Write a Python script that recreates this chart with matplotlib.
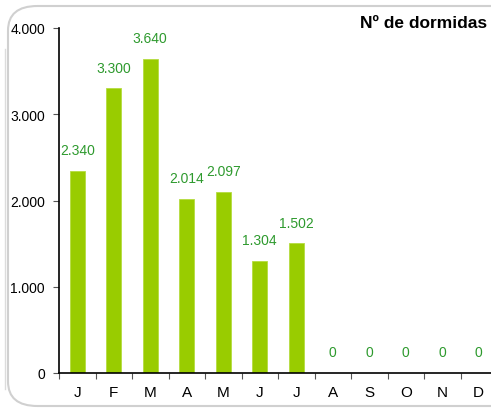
import matplotlib
matplotlib.use("Agg")
import matplotlib.pyplot as plt
from matplotlib.patches import FancyBboxPatch

plt.rcParams['font.family'] = ['Liberation Sans', 'DejaVu Sans']

# dados
meses = ['J', 'F', 'M', 'A', 'M', 'J', 'J', 'A', 'S', 'O', 'N', 'D']
dormidas = [2340, 3300, 3640, 2014, 2097, 1304, 1502, 0, 0, 0, 0, 0]
y_ticks = [0, 1000, 2000, 3000, 4000]
y_labels = ['0', '1.000', '2.000', '3.000', '4.000']

fig = plt.figure(figsize=(4.91, 4.10), dpi=100)

# moldura arredondada
moldura = FancyBboxPatch((8 / 491, 3 / 410), 1.2, 400 / 410,
                         boxstyle="round,pad=0,rounding_size=0.06",
                         transform=fig.transFigure, fill=False,
                         edgecolor='#d0d0d0', linewidth=1.5, clip_on=False)
fig.patches.append(moldura)
fig.add_artist(plt.Line2D([5 / 491, 5 / 491], [20 / 410, 360 / 410],
                          transform=fig.transFigure, color='#dcdcdc', lw=1))

ax = fig.add_axes([59 / 491, 36 / 410, 438 / 491, 345 / 410])
x = list(range(len(meses)))
ax.bar(x, dormidas, width=0.4, color='#99cc00', edgecolor='#b5dc40', linewidth=0.6)

for xi, v in zip(x, dormidas):
    txt = f"{v:,}".replace(',', '.')
    ax.annotate(txt, (xi, v), xytext=(0, 15), textcoords='offset points',
                ha='center', va='center', fontsize=10, color='#2e9a2e')

ax.set_xlim(-0.5, len(meses) - 0.5)
ax.set_ylim(0, 4000)
ax.set_yticks(y_ticks)
ax.set_yticklabels(y_labels, fontsize=10)
ax.set_xticks([i - 0.5 for i in range(len(meses) + 1)])
ax.set_xticklabels([])
ax.set_xticks(x, minor=True)
ax.set_xticklabels(meses, minor=True, fontsize=11)
ax.tick_params(axis='x', which='major', direction='out', length=4, width=0.8, color='#555555')
ax.tick_params(axis='x', which='minor', length=0, pad=9)
ax.tick_params(axis='y', direction='out', length=4, width=0.8, color='#555555', pad=6)

ax.spines['top'].set_visible(False)
ax.spines['right'].set_visible(False)
ax.spines['left'].set_linewidth(1.2)
ax.spines['bottom'].set_linewidth(1.2)

fig.text(487 / 491, 1 - 23 / 410, 'Nº de dormidas', ha='right', va='center',
         fontsize=12.5, fontweight='bold')

fig.savefig('out.png', dpi=100)
